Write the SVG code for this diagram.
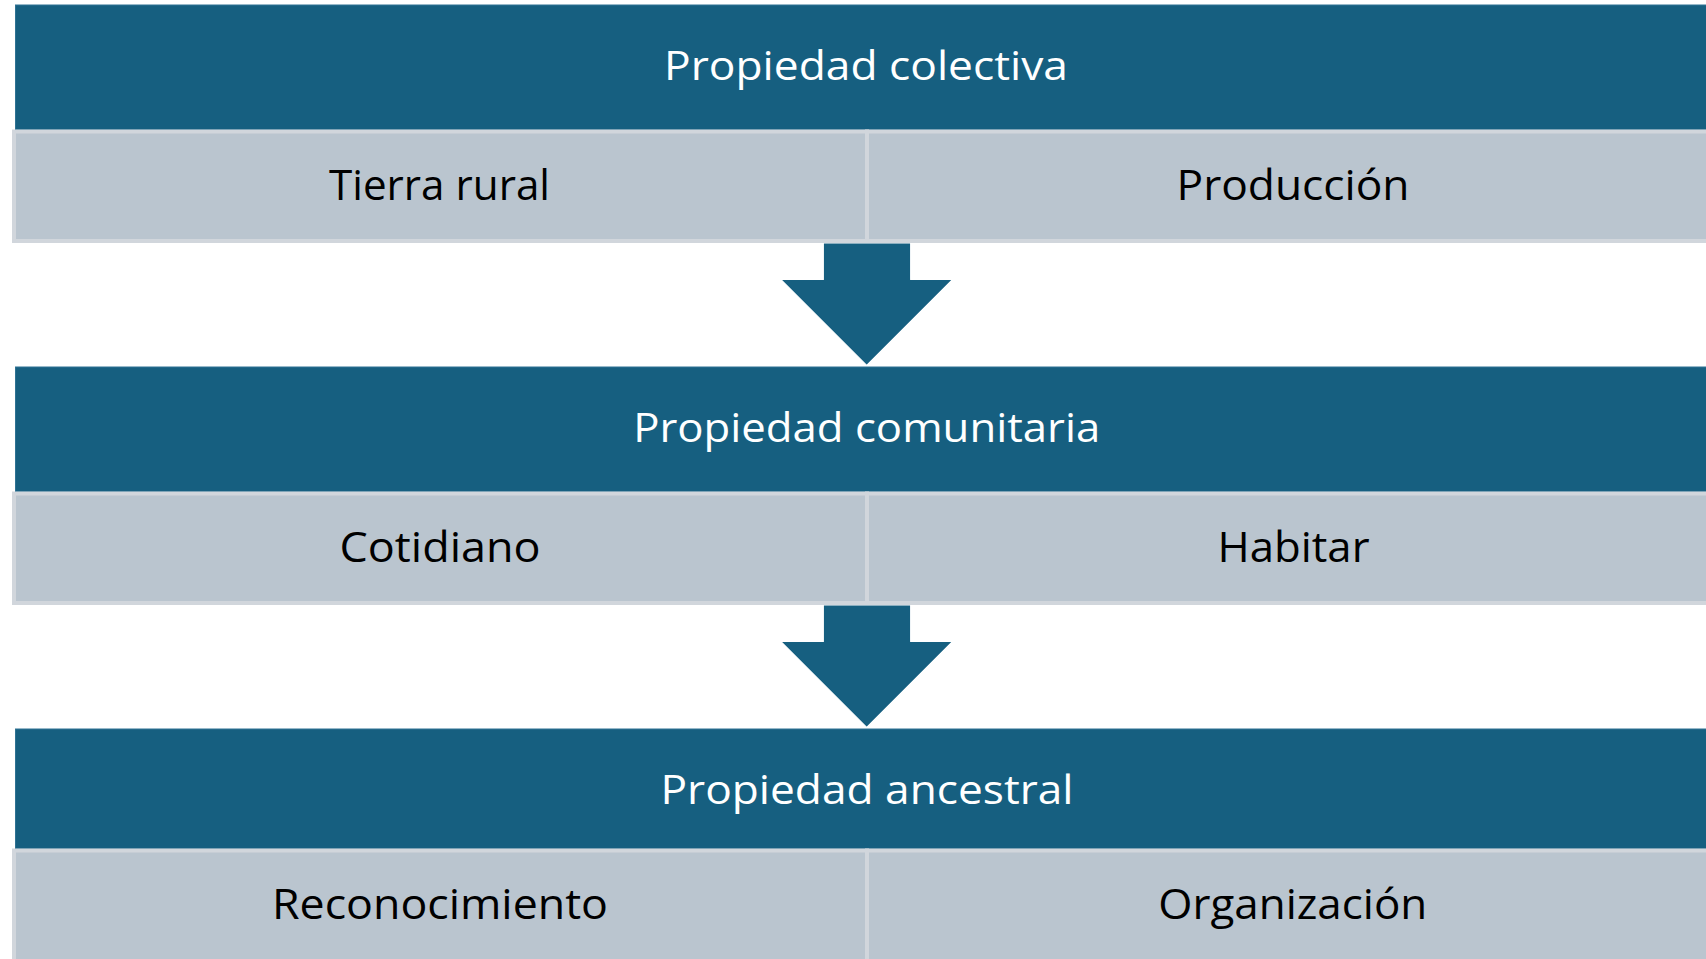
<svg xmlns="http://www.w3.org/2000/svg" width="1706" height="959" viewBox="0 0 1706 959">
<style>
.hdr{fill:#165f80;stroke:#2f7293;stroke-width:1}
.cell{fill:#bac5cf;stroke:#d1d6dc;stroke-width:4}
.arrow{fill:#165f80;stroke:#ffffff;stroke-width:1.2;stroke-linejoin:miter}
.ht{font-family:"Open Sans","Liberation Sans",sans-serif;font-size:41px;fill:#ffffff;text-anchor:middle}
.ct{font-family:"Open Sans","Liberation Sans",sans-serif;font-size:42px;fill:#000000;text-anchor:middle}
</style>
<rect width="1706" height="959" fill="#ffffff"/>
<g id="connectors">
<polygon class="arrow" points="823.3,243 910.7,243 910.7,279.3 952.7,279.3 866.7,365.5 780.7,279.3 823.3,279.3"/>
<polygon class="arrow" points="823.3,605 910.7,605 910.7,641.3 952.7,641.3 866.7,727.5 780.7,641.3 823.3,641.3"/>
</g>
<g id="propiedad-colectiva">
<rect class="hdr" x="15.5" y="5" width="1710" height="124.5"/>
<text class="ht" x="866" y="80" textLength="404" lengthAdjust="spacingAndGlyphs">Propiedad colectiva</text>
</g>
<g id="tierra-rural">
<rect class="cell" x="14" y="131.5" width="853" height="109.5"/>
<text class="ct" x="439.5" y="200" textLength="221" lengthAdjust="spacingAndGlyphs">Tierra rural</text>
</g>
<g id="produccion">
<rect class="cell" x="867" y="131.5" width="860" height="109.5"/>
<text class="ct" x="1293" y="200" textLength="233" lengthAdjust="spacingAndGlyphs">Producción</text>
</g>
<g id="propiedad-comunitaria">
<rect class="hdr" x="15.5" y="367" width="1710" height="124.5"/>
<text class="ht" x="866.7" y="441.7" textLength="467" lengthAdjust="spacingAndGlyphs">Propiedad comunitaria</text>
</g>
<g id="cotidiano">
<rect class="cell" x="14" y="493.5" width="853" height="109.5"/>
<text class="ct" x="440" y="562" textLength="201" lengthAdjust="spacingAndGlyphs">Cotidiano</text>
</g>
<g id="habitar">
<rect class="cell" x="867" y="493.5" width="860" height="109.5"/>
<text class="ct" x="1293.5" y="562" textLength="152" lengthAdjust="spacingAndGlyphs">Habitar</text>
</g>
<g id="propiedad-ancestral">
<rect class="hdr" x="15.5" y="729" width="1710" height="119.5"/>
<text class="ht" x="867" y="804" textLength="413" lengthAdjust="spacingAndGlyphs">Propiedad ancestral</text>
</g>
<g id="reconocimiento">
<rect class="cell" x="14" y="850.5" width="853" height="112"/>
<text class="ct" x="440" y="919" textLength="336" lengthAdjust="spacingAndGlyphs">Reconocimiento</text>
</g>
<g id="organizacion">
<rect class="cell" x="867" y="850.5" width="860" height="112"/>
<text class="ct" x="1292.8" y="919" textLength="269" lengthAdjust="spacingAndGlyphs">Organización</text>
</g>
</svg>
